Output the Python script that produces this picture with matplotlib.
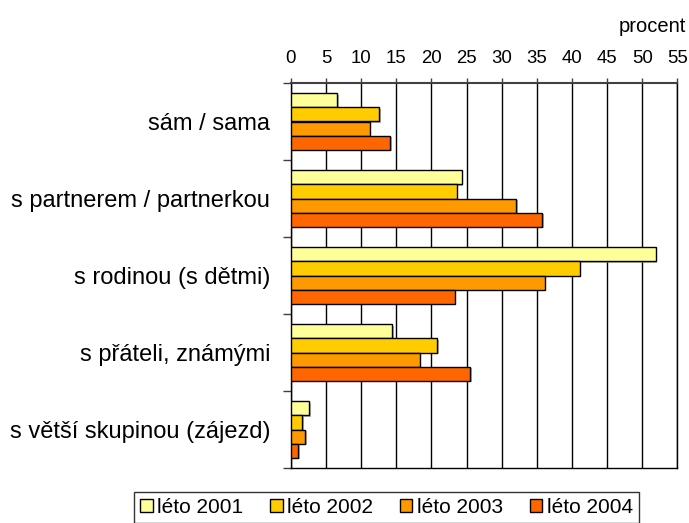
import matplotlib
matplotlib.use("Agg")
import matplotlib.pyplot as plt
import matplotlib.patheffects as pe
from matplotlib.patches import Patch
import numpy as np

plt.rcParams['font.family'] = ['Liberation Sans', 'DejaVu Sans']

categories = ["sám / sama", "s partnerem / partnerkou", "s rodinou (s dětmi)",
              "s přáteli, známými", "s větší skupinou (zájezd)"]
series_names = ["léto 2001", "léto 2002", "léto 2003", "léto 2004"]
leto2001 = [6.6, 24.3, 51.9, 14.4, 2.6]
leto2002 = [12.6, 23.6, 41.1, 20.8, 1.6]
leto2003 = [11.2, 32.1, 36.1, 18.3, 2.0]
leto2004 = [14.1, 35.8, 23.3, 25.5, 1.0]
xticks = [0, 5, 10, 15, 20, 25, 30, 35, 40, 45, 50, 55]
colors = ["#FFFF99", "#FFCC00", "#FF9900", "#FF6600"]

series = [leto2001, leto2002, leto2003, leto2004]

fig = plt.figure(figsize=(6.89, 5.23), dpi=100)
ax = fig.add_axes([291/689, 1-468/523, (677.3-291)/689, (468-83)/523])

n = len(categories)
bh = 0.182
y0 = np.arange(n)
for i, (vals, col) in enumerate(zip(series, colors)):
    ypos = y0 - 1.5*bh + i*bh
    bars = ax.barh(ypos, vals, height=bh, color=col, edgecolor='black', linewidth=1, zorder=3)
    for b in bars:
        b.set_path_effects([pe.SimplePatchShadow(offset=(1.2, -1.2), shadow_rgbFace='#808080', alpha=0.6), pe.Normal()])

ax.set_xlim(0, 55)
ax.set_ylim(n-0.5, -0.5)
ax.xaxis.tick_top()
ax.set_xticks(xticks)
ax.set_xticklabels([str(t) for t in xticks], fontsize=13.4)
ax.tick_params(axis='x', direction='out', length=3.5, width=1, color='#404040', pad=8)
ax.set_yticks(y0)
ax.set_yticklabels(categories, fontsize=17)
ax.set_yticks(np.arange(n+1) - 0.5, minor=True)
ax.tick_params(axis='y', which='major', length=0, pad=15)
ax.tick_params(axis='y', which='minor', direction='out', length=6, width=1, color='#404040')
ax.xaxis.grid(True, color='black', linewidth=1, zorder=0)
ax.set_axisbelow(True)
for s in ['left', 'right', 'bottom']:
    ax.spines[s].set_color('black')
    ax.spines[s].set_linewidth(1)
ax.spines['top'].set_color('#404040')
ax.spines['top'].set_linewidth(1.5)

fig.text(686/689, 1-31.7/523, "procent", ha='right', va='baseline', fontsize=14.5)

handles = [Patch(facecolor=c, edgecolor='black', linewidth=1) for c in colors]
leg = fig.legend(handles, series_names, loc='upper center', bbox_to_anchor=(386.5/689, 1-491.5/523),
                 ncol=4, frameon=True, fontsize=15, handlelength=0.6, handleheight=0.6,
                 handletextpad=0.2, columnspacing=1.3, borderpad=0.3, borderaxespad=0,
                 fancybox=False, edgecolor='black')
leg.get_frame().set_linewidth(1)

fig.savefig("out.png", dpi=100)
